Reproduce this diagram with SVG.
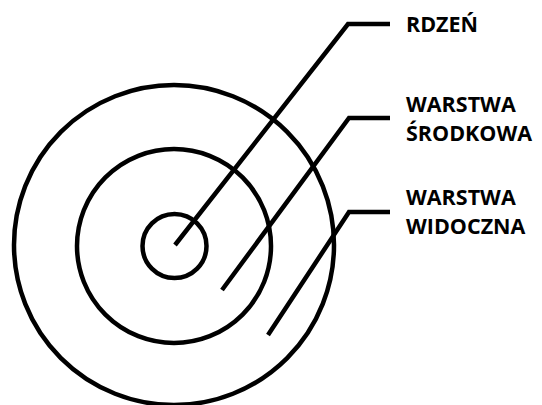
<svg xmlns="http://www.w3.org/2000/svg" width="542" height="405" viewBox="0 0 542 405">
<style>
.ring{fill:none;stroke:#000;stroke-width:4.5}
.lead{fill:none;stroke:#000;stroke-width:4.5;stroke-linejoin:miter}
.lbl{font-family:"Open Sans","Liberation Sans",sans-serif;font-weight:bold;font-size:21.5px;fill:#000}
</style>
<rect width="542" height="405" fill="#fff"/>
<g id="outer"><circle class="ring" cx="174" cy="245" r="160"/></g>
<g id="middle"><circle class="ring" cx="174" cy="246" r="97"/></g>
<g id="core"><circle class="ring" cx="174.5" cy="246" r="32"/></g>
<g id="connectors">
<polyline class="lead" points="175,245 348,24 390,24"/>
<polyline class="lead" points="222,290 349,118 390,118"/>
<polyline class="lead" points="268,335 349,212 390,212"/>
</g>
<g id="label-rdzen"><text class="lbl" x="406" y="32">RDZEŃ</text></g>
<g id="label-srodkowa"><text class="lbl" x="406" y="112">WARSTWA</text><text class="lbl" x="406" y="141">ŚRODKOWA</text></g>
<g id="label-widoczna"><text class="lbl" x="406" y="205">WARSTWA</text><text class="lbl" x="406" y="234">WIDOCZNA</text></g>
</svg>
